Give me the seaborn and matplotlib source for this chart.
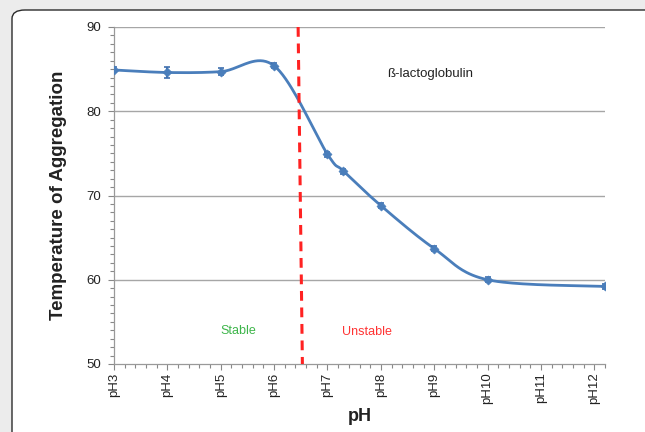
import numpy as np
import pandas as pd
import seaborn as sns
import matplotlib
matplotlib.use("Agg")
import matplotlib.pyplot as plt
from matplotlib.patches import FancyBboxPatch
from matplotlib.ticker import MultipleLocator

# ---- data ----
ph_values = [3.0, 4.0, 5.0, 6.0, 7.0, 7.3, 8.0, 9.0, 10.0, 12.2]
temp_values = [84.9, 84.6, 84.7, 85.4, 74.9, 72.9, 68.8, 63.7, 60.0, 59.2]
temp_err = [0.3, 0.6, 0.4, 0.3, 0.3, 0.3, 0.3, 0.3, 0.3, 0.3]
tick_positions = [3, 4, 5, 6, 7, 8, 9, 10, 11, 12]
tick_labels = ["pH3", "pH4", "pH5", "pH6", "pH7", "pH8", "pH9", "pH10", "pH11", "pH12"]
boundary_ph = [6.45, 6.53]

sns.set_theme(style="white")
plt.rcParams['font.family'] = ['Liberation Sans', 'DejaVu Sans']

fig = plt.figure(figsize=(6.45, 4.32), dpi=100)
fig.patch.set_facecolor("#ececec")

# white rounded frame (cut off at right and bottom)
frame = FancyBboxPatch((12 / 645, -0.1), 1.2, 1 - 10 / 432 + 0.1,
                       boxstyle="round,pad=0,rounding_size=0.02",
                       transform=fig.transFigure, facecolor="white",
                       edgecolor="#2b2b2b", linewidth=1.0, zorder=-10)
fig.patches.append(frame)

ax = fig.add_axes([114 / 645, 1 - 364 / 432, (605 - 114) / 645, (364 - 27) / 432])
ax.set_facecolor("none")
ax.set_zorder(1)

# smooth (Excel-like) curve through the points, built in pixel-ish space
sx, sy = 53.4, 8.43
P = np.column_stack([np.array(ph_values) * sx, np.array(temp_values) * sy])
curve = []
n = len(P)
for i in range(n - 1):
    p0 = P[i]
    p3 = P[i + 1]
    pm = P[i - 1] if i > 0 else P[i]
    pn = P[i + 2] if i + 2 < n else P[i + 1]
    c1 = p0 + (p3 - pm) / 6.0
    c2 = p3 - (pn - p0) / 6.0
    t = np.linspace(0, 1, 40)[:, None]
    seg = (1 - t) ** 3 * p0 + 3 * (1 - t) ** 2 * t * c1 + 3 * (1 - t) * t ** 2 * c2 + t ** 3 * p3
    curve.append(seg if i == 0 else seg[1:])
curve = np.vstack(curve)
df_curve = pd.DataFrame({"pH": curve[:, 0] / sx, "T": curve[:, 1] / sy})

sns.lineplot(data=df_curve, x="pH", y="T", sort=False, color="#4a7ebb",
             linewidth=2.0, ax=ax, zorder=3)

df_pts = pd.DataFrame({"pH": ph_values, "T": temp_values})
ax.errorbar(ph_values, temp_values, yerr=temp_err, fmt="none",
            ecolor="#3f6fae", elinewidth=1.5, capsize=2.5, capthick=1.2, zorder=4)
sns.scatterplot(data=df_pts, x="pH", y="T", marker="D", s=22, color="#4a7ebb",
                edgecolor="#4a7ebb", ax=ax, zorder=5)

# boundary line
ax.plot(boundary_ph, [90, 50], color="#ff2222", linewidth=2.2,
        linestyle=(0, (3.2, 2.2)), zorder=6)

ax.set_xlim(3, 12.2)
ax.set_ylim(50, 90)
ax.set_yticks([50, 60, 70, 80, 90])
ax.yaxis.set_minor_locator(MultipleLocator(1))
ax.set_xticks(tick_positions)
ax.set_xticklabels(tick_labels, rotation=90, fontsize=9.5, color="#222222")
ax.xaxis.set_minor_locator(MultipleLocator(0.2))
ax.tick_params(axis="y", labelsize=9.5, labelcolor="#222222")
ax.tick_params(axis="both", which="both", direction="out", color="#888888",
               length=3, width=0.8, bottom=True, left=True)
ax.tick_params(axis="y", which="major", length=4, pad=5)
ax.tick_params(axis="x", which="major", length=4, pad=2)

for y in [60, 70, 80, 90]:
    ax.axhline(y, color="#a6a6a6", linewidth=1.0, zorder=1)

for side in ["top", "right"]:
    ax.spines[side].set_visible(False)
for side in ["left", "bottom"]:
    ax.spines[side].set_color("#999999")
    ax.spines[side].set_linewidth(0.9)

ax.set_xlabel("pH", fontsize=13, fontweight="bold", color="#222222", labelpad=3)
ax.set_ylabel("Temperature of Aggregation", fontsize=13.5, fontweight="bold",
              color="#222222", labelpad=14)

ax.text(8.93, 84.4, "ß-lactoglobulin", fontsize=9.5, ha="center", va="center", color="#222222")
ax.text(5.32, 53.9, "Stable", fontsize=9, ha="center", va="center", color="#3db54a")
ax.text(7.73, 53.8, "Unstable", fontsize=9, ha="center", va="center", color="#ff3333")

fig.savefig("out.png", dpi=100, facecolor=fig.get_facecolor())
